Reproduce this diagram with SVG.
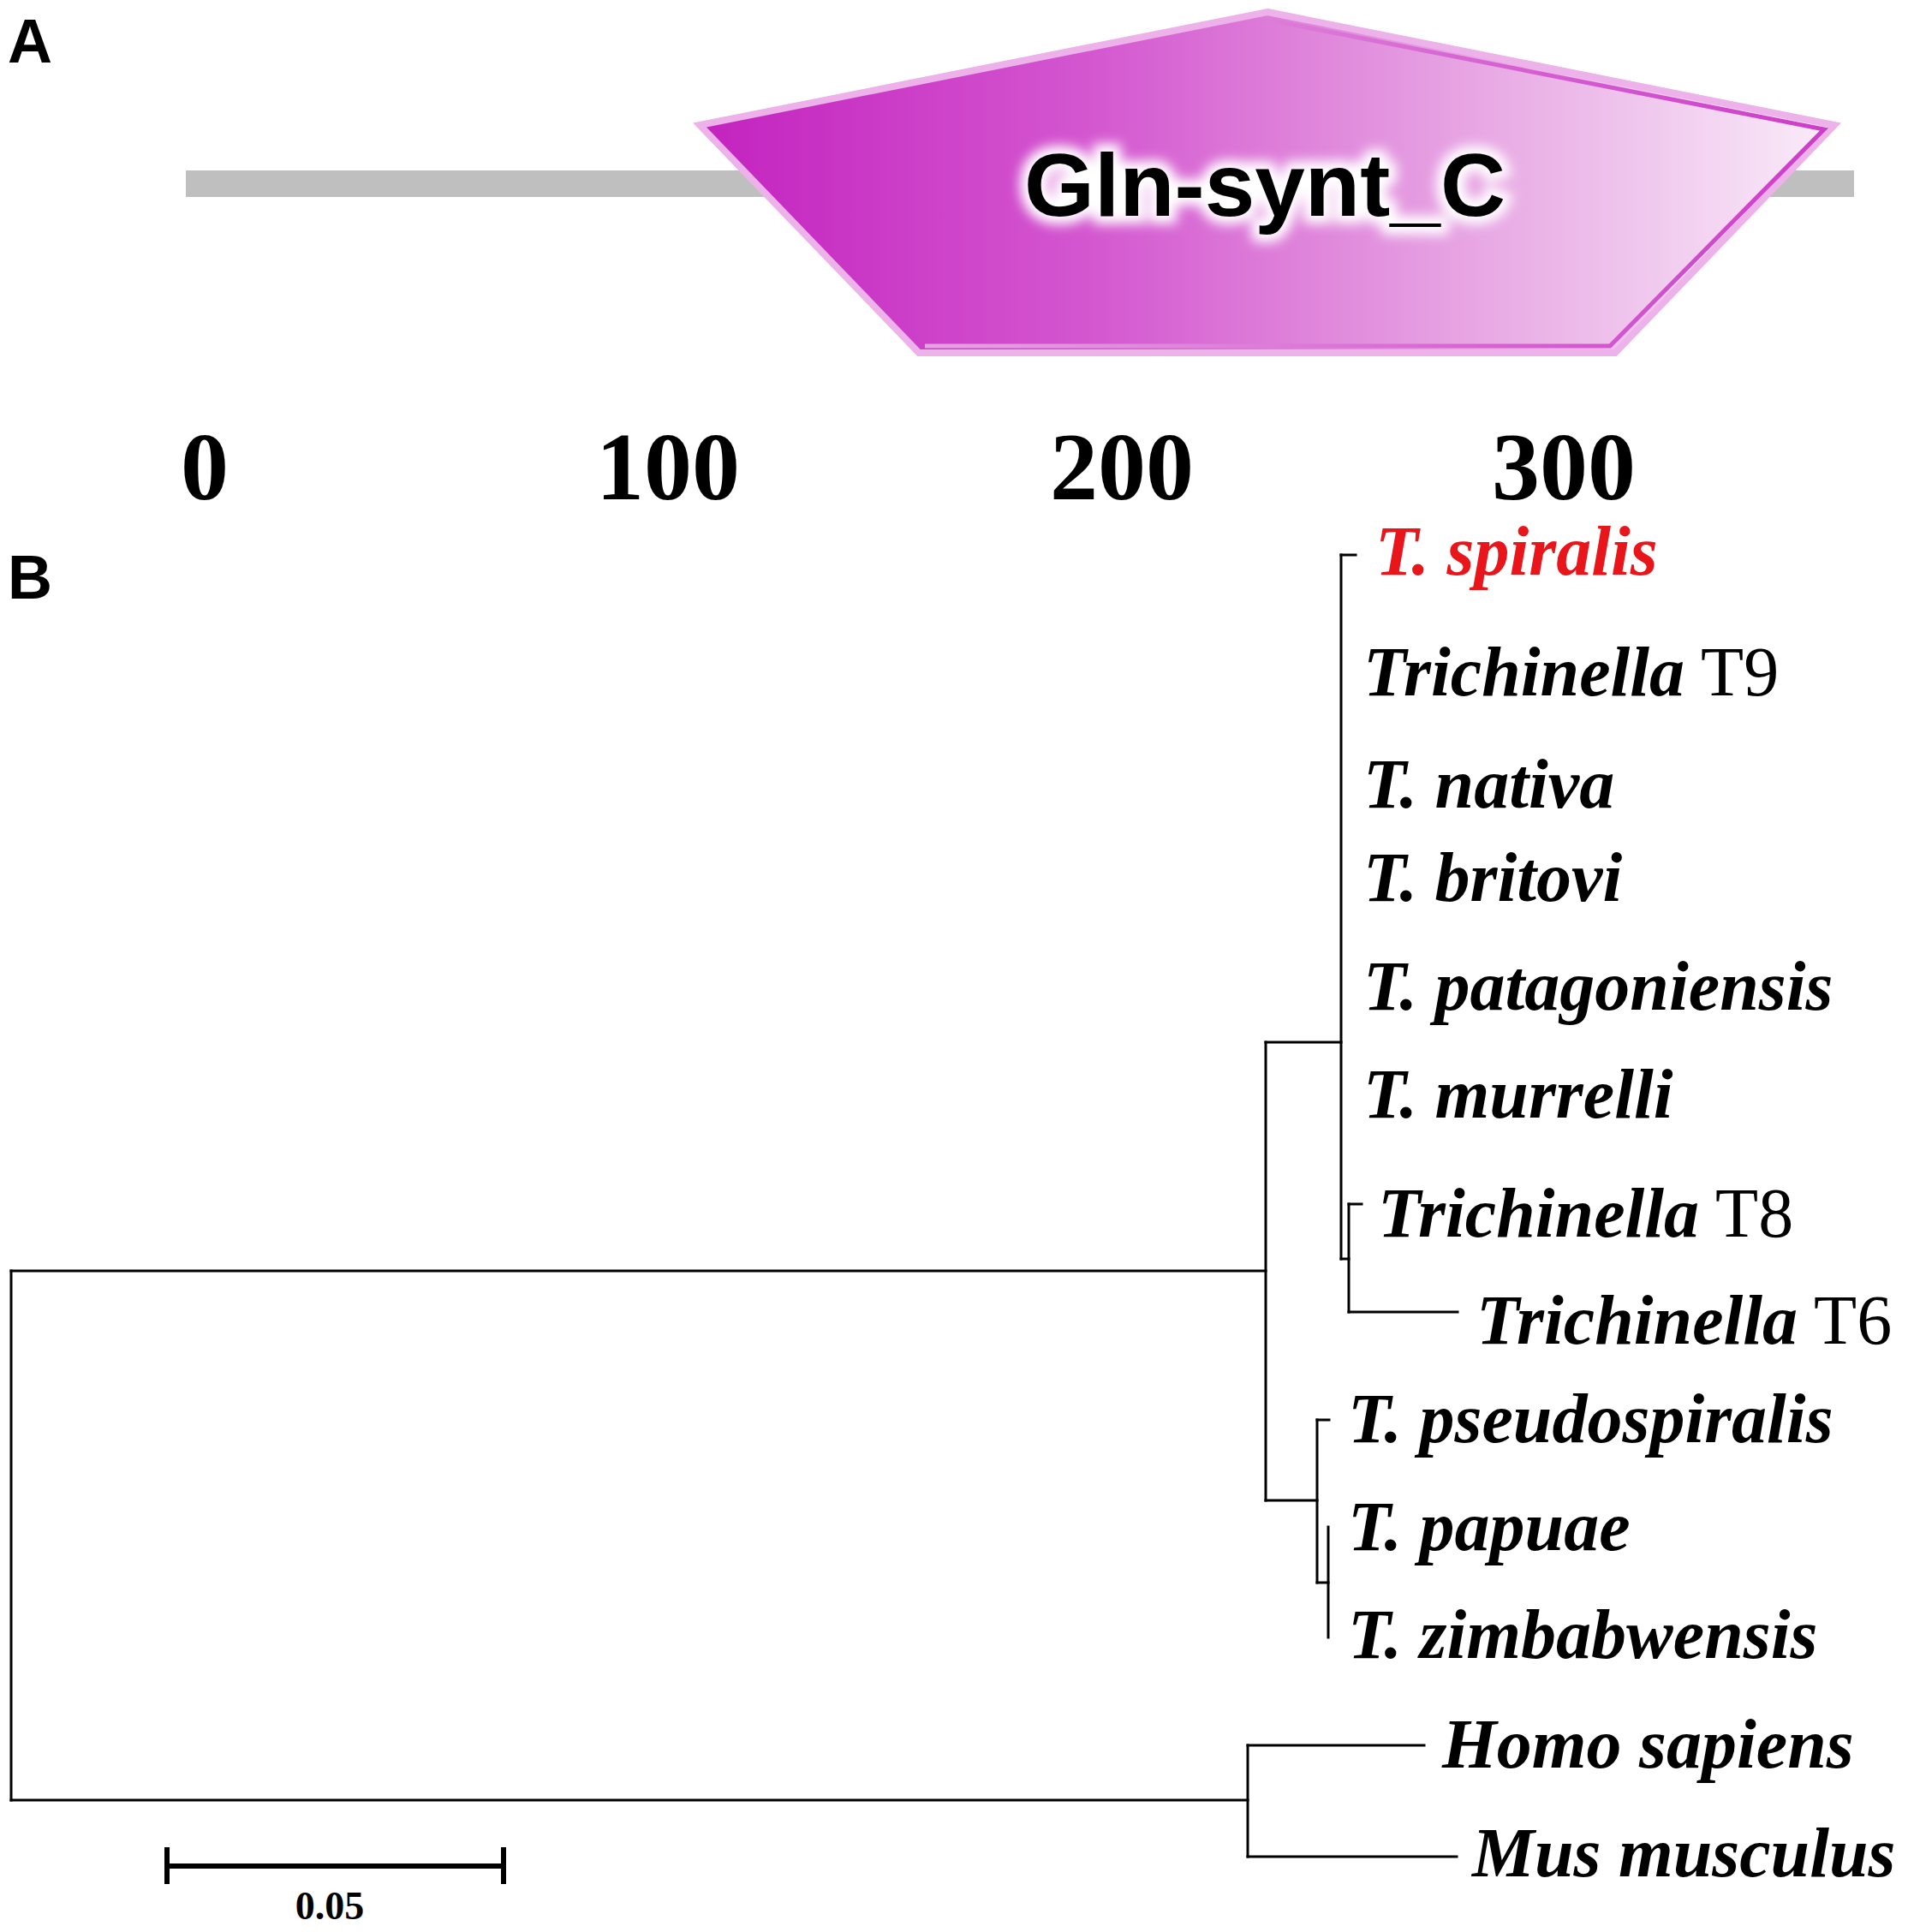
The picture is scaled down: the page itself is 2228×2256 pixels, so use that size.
<svg xmlns="http://www.w3.org/2000/svg" width="2228" height="2256" viewBox="0 0 2228 2256">
<style>
.panel{font-family:"Liberation Sans",Arial,sans-serif;font-weight:bold;font-size:72px;fill:#000}
.axis{font-family:"Liberation Serif","Times New Roman",serif;font-weight:bold;font-size:112px;text-anchor:middle;fill:#000}
.tax{font-family:"Liberation Serif","Times New Roman",serif;font-weight:bold;font-style:italic;font-size:82px;fill:#000}
.up{font-style:normal;font-weight:normal}
.br{stroke:#000;stroke-width:3;fill:none;stroke-linecap:square}
.sb{stroke:#000;stroke-width:6;fill:none}
.dom{font-family:"Liberation Sans",Arial,sans-serif;font-weight:bold;font-size:104px;text-anchor:middle}
</style>
<defs>
<linearGradient id="domfill" x1="817" y1="0" x2="2142" y2="0" gradientUnits="userSpaceOnUse">
<stop offset="0" stop-color="#c322bf"/>
<stop offset="0.35" stop-color="#d458d0"/>
<stop offset="0.68" stop-color="#e7a6e3"/>
<stop offset="1" stop-color="#faedf9"/>
</linearGradient>
<linearGradient id="edge" x1="1073" y1="0" x2="2142" y2="0" gradientUnits="userSpaceOnUse">
<stop offset="0" stop-color="#e7a3e3"/>
<stop offset="1" stop-color="#cc3cc8"/>
</linearGradient>
<filter id="glow" x="-20%" y="-60%" width="140%" height="220%"><feGaussianBlur stdDeviation="7"/></filter>
</defs>
<rect width="2228" height="2256" fill="#fff"/>

<g id="panelA">
<text class="panel" x="9" y="73">A</text>
<rect id="protein-bar" x="217" y="199" width="1948" height="31" fill="#bfbfbf"/>
<g id="domain">
<polygon points="1480,14 2142,146 1886,412 1073,412 817,146" fill="url(#domfill)" stroke="#ecb2e9" stroke-width="8" stroke-linejoin="miter"/>
<polyline points="1480,23 2130,151 1880,404 1080,404" fill="none" stroke="url(#edge)" stroke-width="5"/>
<text class="dom" x="1477" y="252" textLength="562" lengthAdjust="spacingAndGlyphs" fill="#fff" stroke="#fff" stroke-width="18" filter="url(#glow)">Gln-synt_C</text>
<text class="dom" x="1477" y="252" textLength="562" lengthAdjust="spacingAndGlyphs" fill="#000">Gln-synt_C</text>
</g>
<g id="axis">
<text class="axis" x="239" y="583">0</text>
<text class="axis" x="780" y="583">100</text>
<text class="axis" x="1310" y="583">200</text>
<text class="axis" x="1826" y="583">300</text>
</g>
</g>

<text class="panel" x="9" y="699">B</text>

<g id="connectors">
<path class="br" d="M13,1484 V2102"/>
<path class="br" d="M13,1484 H1478"/>
<path class="br" d="M13,2102 H1457"/>
<path class="br" d="M1478,1217 V1752"/>
<path class="br" d="M1478,1217 H1566"/>
<path class="br" d="M1566,648 V1470"/>
<path class="br" d="M1566,648 H1583"/>
<path class="br" d="M1566,1470 H1575"/>
<path class="br" d="M1575,1406 V1532"/>
<path class="br" d="M1575,1406 H1590"/>
<path class="br" d="M1575,1532 H1702"/>
<path class="br" d="M1478,1752 H1538"/>
<path class="br" d="M1538,1658 V1848"/>
<path class="br" d="M1538,1658 H1552"/>
<path class="br" d="M1538,1848 H1551"/>
<path class="br" d="M1551,1783 V1912"/>
<path class="br" d="M1457,2038 V2168"/>
<path class="br" d="M1457,2038 H1663"/>
<path class="br" d="M1457,2168 H1701"/>
</g>

<g id="scale-bar">
<path class="sb" d="M195,2179 H588"/>
<path class="sb" d="M195,2157 V2200"/>
<path class="sb" d="M588,2157 V2200"/>
<text x="385" y="2241" font-family="Liberation Serif, Times New Roman, serif" font-weight="bold" font-size="46" text-anchor="middle">0.05</text>
</g>

<g id="t-spiralis"><text class="tax" x="1606" y="671" style="fill:#e8151b">T. spiralis</text></g>
<g id="trichinella-t9"><text class="tax" x="1592" y="812">Trichinella<tspan class="up"> T9</tspan></text></g>
<g id="t-nativa"><text class="tax" x="1592" y="943">T. nativa</text></g>
<g id="t-britovi"><text class="tax" x="1592" y="1052">T. britovi</text></g>
<g id="t-patagoniensis"><text class="tax" x="1592" y="1179">T. patagoniensis</text></g>
<g id="t-murrelli"><text class="tax" x="1592" y="1305">T. murrelli</text></g>
<g id="trichinella-t8"><text class="tax" x="1609" y="1444">Trichinella<tspan class="up"> T8</tspan></text></g>
<g id="trichinella-t6"><text class="tax" x="1724" y="1569">Trichinella<tspan class="up"> T6</tspan></text></g>
<g id="t-pseudospiralis"><text class="tax" x="1574" y="1684">T. pseudospiralis</text></g>
<g id="t-papuae"><text class="tax" x="1574" y="1810">T. papuae</text></g>
<g id="t-zimbabwensis"><text class="tax" x="1574" y="1936">T. zimbabwensis</text></g>
<g id="homo-sapiens"><text class="tax" x="1684" y="2064">Homo sapiens</text></g>
<g id="mus-musculus"><text class="tax" x="1719" y="2191">Mus musculus</text></g>
</svg>
